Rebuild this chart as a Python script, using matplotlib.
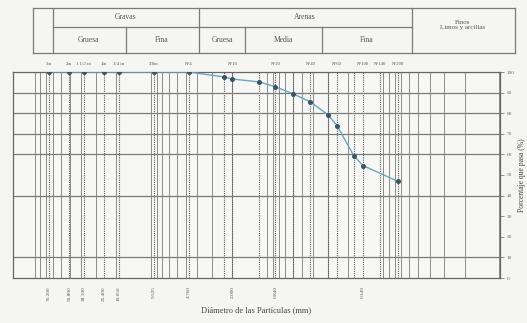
import matplotlib
matplotlib.use("Agg")
import matplotlib.pyplot as plt
from matplotlib.lines import Line2D
import numpy as np

plt.rcParams['font.family'] = ['Liberation Serif', 'DejaVu Serif']

# Data
diam_mm = [76.2, 50.8, 38.1, 25.4, 19.05, 9.525, 4.76, 2.36, 2.0, 1.18, 0.85,
           0.6, 0.425, 0.3, 0.25, 0.18, 0.15, 0.075]
pct_pass = [100, 100, 100, 100, 100, 100, 100, 97.6, 96.6, 95.2, 92.8,
            89.4, 85.5, 79.2, 73.9, 59.4, 54.6, 46.9]

top_sieves = [76.2, 50.8, 38.1, 25.4, 19.05, 9.525, 4.76, 2.0, 0.85, 0.425,
              0.25, 0.15, 0.106, 0.075]
top_labels = ['3in', '2in', '1 1/2 in', '1in', '3/4 in', '3/8in', 'N°4', 'N°10',
              'N°20', 'N°40', 'N°60', 'N°100', 'N°140', 'N°200']
bottom_sieves = [76.2, 50.8, 38.1, 25.4, 19.05, 9.525, 4.76, 2.0, 0.85, 0.15]
bottom_labels = ['76.200', '50.800', '38.100', '25.400', '19.050', '9.525',
                 '4.760', '2.000', '0.840', '0.149']
y_ticks = list(range(0, 101, 10))
h_grid = [10, 40, 60, 70, 80, 90]

W, H = 527, 323
fig = plt.figure(figsize=(W / 100, H / 100), dpi=100)
fig.patch.set_facecolor('#f5f5f3')

def fx(x):
    return x / W

def fy(y):
    return 1 - y / H

ax = fig.add_axes([fx(13), fy(278), fx(500) - fx(13), fy(72) - fy(278)])
ax.set_facecolor('#f7f7f5')
ax.set_xscale('log')
ax.set_xlim(155, 0.0099)
ax.set_ylim(0, 100)

# log grid
for dec in [0.01, 0.1, 1, 10, 100]:
    for m in range(1, 10):
        v = dec * m
        if 0.0099 < v < 155:
            ax.axvline(v, color='#8c8c8c', lw=0.7, zorder=1)
for s in top_sieves + [2.36, 1.18, 0.6, 0.3, 0.18]:
    ax.axvline(s, color='#5a5a5a', lw=0.8, ls=(0, (1, 1)), zorder=1)
for h in h_grid:
    ax.axhline(h, color='#7a7a7a', lw=0.9, zorder=1)

ax.plot(diam_mm, pct_pass, color='#6aa6bf', lw=1.0, zorder=3,
        marker='o', ms=2.6, mfc='#3c5566', mec='#3c5566')

ax.yaxis.tick_right()
ax.set_yticks(y_ticks)
ax.set_yticklabels([str(t) for t in y_ticks], fontsize=3.8, color='#555555')
ax.tick_params(axis='y', length=3, width=0.5, colors='#666666', pad=2)
ax.set_xticks(bottom_sieves)
ax.set_xticklabels(bottom_labels, rotation=90, fontsize=3.8, color='#555555')
ax.xaxis.set_minor_locator(matplotlib.ticker.NullLocator())
ax.tick_params(axis='x', length=0, pad=6)
for sp in ax.spines.values():
    sp.set_color('#666666')
    sp.set_linewidth(0.9)

ax2 = ax.twiny()
ax2.set_xscale('log')
ax2.set_xlim(ax.get_xlim())
ax2.set_xticks(top_sieves)
ax2.set_xticklabels(top_labels, fontsize=3.4, color='#555555')
ax2.xaxis.set_minor_locator(matplotlib.ticker.NullLocator())
ax2.tick_params(axis='x', length=0, pad=4)
for sp in ax2.spines.values():
    sp.set_visible(False)

ax.set_xlabel('Diámetro de las Partículas (mm)', fontsize=6, color='#444444', labelpad=4)
ax.yaxis.set_label_position('right')
ax.set_ylabel('Porcentaje que pasa (%)', fontsize=5.5, color='#444444', labelpad=2)

# header table
lc = '#7a7a7a'
def hline(x0, x1, y):
    fig.add_artist(Line2D([fx(x0), fx(x1)], [fy(y), fy(y)], color=lc, lw=0.9))

def vline(x, y0, y1):
    fig.add_artist(Line2D([fx(x), fx(x)], [fy(y0), fy(y1)], color=lc, lw=0.9))

hline(33, 515, 8)
hline(33, 515, 53)
hline(53, 412, 27)
vline(33, 8, 53)
vline(515, 8, 53)
vline(53, 8, 53)
vline(199, 8, 53)
vline(412, 8, 53)
vline(126, 27, 53)
vline(245, 27, 53)
vline(322, 27, 53)

tc = '#555555'
def txt(x, y, s, fs=5.5):
    fig.text(fx(x), fy(y), s, ha='center', va='center', fontsize=fs, color=tc)

txt(126, 17, 'Gravas')
txt(305, 17, 'Arenas')
txt(463, 25, 'Finos\nLimos y arcillas', fs=5)
txt(89, 40, 'Gruesa')
txt(162, 40, 'Fina')
txt(222, 40, 'Gruesa')
txt(283, 40, 'Media')
txt(367, 40, 'Fina')

fig.savefig('out.png', dpi=100, facecolor=fig.get_facecolor())
